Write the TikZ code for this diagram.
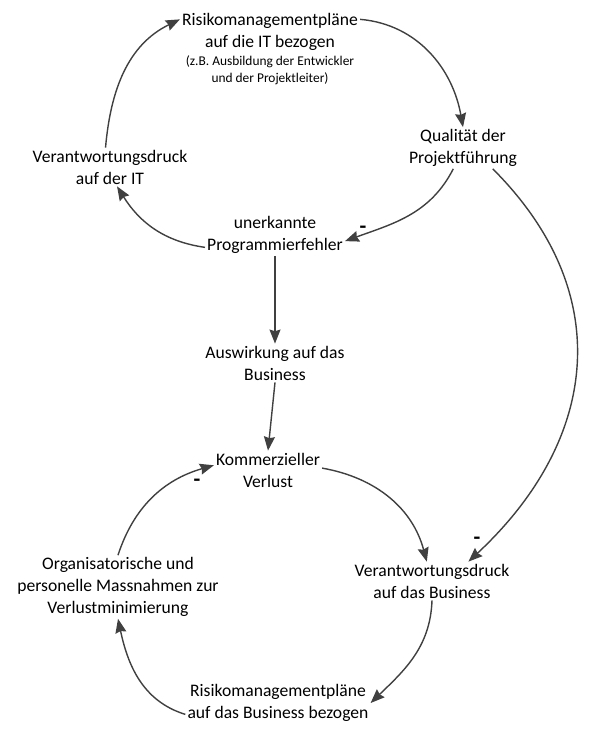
\documentclass[tikz,border=0pt]{standalone}
\usepackage{fontspec}
\setmainfont{Carlito}[Ligatures=CommonOff]
\usepackage{tikz}
\usetikzlibrary{arrows.meta,positioning}
\definecolor{linkcol}{RGB}{64,64,64}
\tikzset{
  cld var/.style={align=center,inner sep=2pt,font=\fontsize{17.6}{22}\selectfont},
  cld note/.style={align=center,inner sep=1pt,font=\fontsize{13.4}{17}\selectfont},
  cld sign/.style={inner sep=0pt,font=\fontsize{22}{22}\selectfont\bfseries},
  cld arrow/.style={-{Stealth[length=14pt,width=11pt,inset=1.5pt]},draw=linkcol,line width=1.4pt}
}

\begin{document}
\begin{tikzpicture}[x=1pt,y=1pt]
  \useasboundingbox (0,0) rectangle (595,-738);
  \node[cld var] (risikoIT) at (270,-32) {Risikomanagementpläne\\auf die IT bezogen};
  \node[cld note,below=2pt of risikoIT] (risikoITnote) {(z.B. Ausbildung der Entwickler\\und der Projektleiter)};
  \node[cld var] (qual) at (463,-148) {Qualität der\\Projektführung};
  \node[cld var] (verIT) at (110,-167) {Verantwortungsdruck\\auf der IT};
  \node[cld var] (progf) at (275,-235) {unerkannte\\Programmierfehler};
  \node[cld var] (ausw) at (275,-363) {Auswirkung auf das\\Business};
  \node[cld var] (komm) at (268,-470) {Kommerzieller\\Verlust};
  \node[cld var] (org) at (118,-587) {Organisatorische und\\personelle Massnahmen zur\\Verlustminimierung};
  \node[cld var] (verBus) at (432,-581) {Verantwortungsdruck\\auf das Business};
  \node[cld var] (risBus) at (278,-703) {Risikomanagementpläne\\auf das Business bezogen};
  \node[cld sign] (signA) at (363,-230) {-};
  \node[cld sign] (signB) at (477,-541) {-};
  \node[cld sign] (signC) at (197,-483) {-};
  \draw[cld arrow] (verIT.103) to[out=85,in=206] (risikoIT.172);
  \draw[cld arrow] (risikoIT.8) to[out=-5,in=100] (qual.north);
  \draw[cld arrow] (qual.-115) to[out=-117,in=20] (progf.-5);
  \draw[cld arrow] (progf.190) to[out=172,in=-58] (verIT.-70);
  \draw[cld arrow] (progf.south) -- (ausw.north);
  \draw[cld arrow] (ausw.south) -- (komm.north);
  \draw[cld arrow] (komm.2) to[out=-10,in=105] (verBus.105);
  \draw[cld arrow] (qual.-35) to[out=-45,in=43,looseness=1.15] (verBus.28);
  \draw[cld arrow] (verBus.south) to[out=-92,in=44] (risBus.east);
  \draw[cld arrow] (risBus.187) to[out=163,in=-78] (org.south);
  \draw[cld arrow] (org.north) to[out=72,in=196] (komm.175);
\end{tikzpicture}
\end{document}
